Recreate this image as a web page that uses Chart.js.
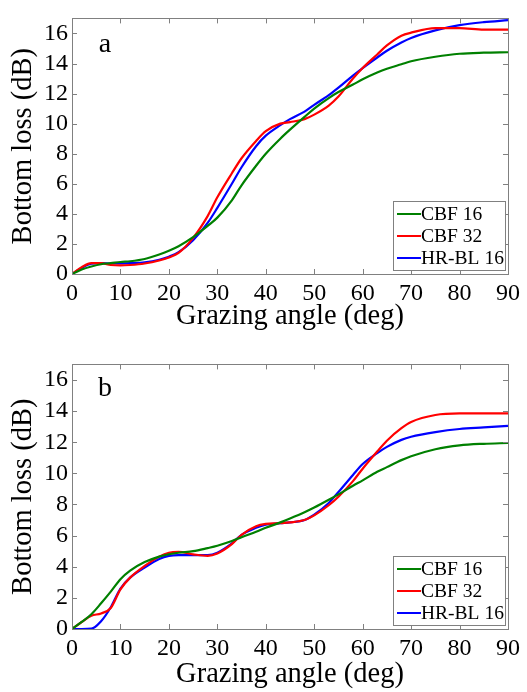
<!DOCTYPE html>
<html>
<head>
<meta charset="utf-8">
<script src="https://cdn.jsdelivr.net/npm/chart.js@4.4.1/dist/chart.umd.min.js"></script>
<style>
  html, body { margin: 0; padding: 0; background: #fff; }
  .panel { position: relative; width: 527px; height: 346px; }
</style>
</head>
<body>
<div class="panel"><canvas id="chartA"></canvas></div>
<div class="panel"><canvas id="chartB"></canvas></div>
<script>
const angles = [0, 2, 4, 6, 8, 10, 12, 15, 18, 20, 22, 25, 28, 30, 33, 35, 38, 40, 43, 45,
                48, 50, 53, 55, 58, 60, 63, 65, 68, 70, 75, 80, 85, 90];

const xTicks = [0, 10, 20, 30, 40, 50, 60, 70, 80, 90];
const yTicks = [0, 2, 4, 6, 8, 10, 12, 14, 16];
const seriesNames = ["CBF 16", "CBF 32", "HR-BL 16"];

// panel a
const cbf16A = [0, 0.3, 0.5, 0.65, 0.72, 0.8, 0.85, 1.0, 1.3, 1.55, 1.85, 2.45, 3.2, 3.75, 4.9, 5.9,
                7.2, 8.0, 9.0, 9.6, 10.45, 11.0, 11.7, 12.1, 12.6, 12.95, 13.4, 13.65, 13.95, 14.15,
                14.45, 14.65, 14.72, 14.75];
const cbf32A = [0, 0.45, 0.72, 0.72, 0.6, 0.57, 0.6, 0.7, 0.9, 1.1, 1.4, 2.4, 3.85, 5.1, 6.7, 7.7,
                8.85, 9.5, 10.0, 10.1, 10.3, 10.6, 11.2, 11.8, 13.0, 13.7, 14.6, 15.2, 15.85, 16.05,
                16.35, 16.35, 16.25, 16.25];
const hrbl16A = [0, 0.4, 0.68, 0.72, 0.7, 0.7, 0.72, 0.78, 0.95, 1.15, 1.45, 2.25, 3.4, 4.4, 6.0, 7.1,
                 8.5, 9.2, 9.9, 10.3, 10.8, 11.25, 11.9, 12.4, 13.2, 13.7, 14.4, 14.85, 15.4, 15.7,
                 16.2, 16.55, 16.75, 16.88];

// panel b
const cbf16B = [0, 0.45, 0.95, 1.65, 2.4, 3.2, 3.75, 4.3, 4.65, 4.8, 4.9, 5.0, 5.2, 5.35, 5.65, 5.9,
                6.25, 6.5, 6.85, 7.1, 7.5, 7.8, 8.3, 8.65, 9.2, 9.55, 10.1, 10.4, 10.85, 11.1,
                11.55, 11.8, 11.9, 11.95];
const cbf32B = [0, 0.45, 0.85, 1.0, 1.35, 2.55, 3.3, 4.05, 4.65, 4.9, 4.95, 4.8, 4.7, 4.85, 5.45, 6.05,
                6.6, 6.75, 6.8, 6.85, 7.0, 7.3, 7.95, 8.5, 9.5, 10.3, 11.4, 12.1, 12.9, 13.3,
                13.75, 13.85, 13.85, 13.85];
const hrbl16B = [0, 0, 0.02, 0.5, 1.4, 2.6, 3.3, 3.95, 4.5, 4.7, 4.75, 4.75, 4.75, 4.9, 5.5, 6.05,
                 6.5, 6.7, 6.8, 6.85, 7.0, 7.35, 8.1, 8.8, 9.9, 10.6, 11.3, 11.7, 12.15, 12.35,
                 12.65, 12.85, 12.95, 13.05];

const colors = ["#008000", "#ff0000", "#0000ff"];
const serif = "'Liberation Serif', 'Times New Roman', serif";

function points(vals) {
    return angles.map((a, i) => ({ x: a, y: vals[i] }));
}

// MATLAB-like box with inward ticks on all four sides
const boxPlugin = {
    id: "box",
    afterDatasetsDraw(chart) {
        const { ctx, chartArea: a, scales } = chart;
        ctx.save();
        ctx.strokeStyle = "#808080";
        ctx.lineWidth = 1;
        ctx.beginPath();
        xTicks.forEach(v => {
            const x = Math.round(scales.x.getPixelForValue(v)) + 0.5;
            ctx.moveTo(x, a.bottom); ctx.lineTo(x, a.bottom - 5);
            ctx.moveTo(x, a.top); ctx.lineTo(x, a.top + 5);
        });
        yTicks.forEach(v => {
            const y = Math.round(scales.y.getPixelForValue(v)) + 0.5;
            ctx.moveTo(a.left, y); ctx.lineTo(a.left + 5, y);
            ctx.moveTo(a.right, y); ctx.lineTo(a.right - 5, y);
        });
        ctx.stroke();
        ctx.strokeRect(Math.round(a.left) + 0.5, Math.round(a.top) + 0.5,
                       Math.round(a.width), Math.round(a.height));
        ctx.restore();
    }
};

// legend box in lower right corner + panel letter
const annotPlugin = {
    id: "annot",
    afterDraw(chart, args, opts) {
        const { ctx, chartArea: a } = chart;
        ctx.save();
        // panel letter
        ctx.fillStyle = "#000";
        ctx.font = "28px " + serif;
        ctx.textAlign = "center";
        ctx.textBaseline = "middle";
        ctx.fillText(opts.letter, a.left + 33, a.top + opts.letterDy);

        // legend
        const w = 112, h = 69;
        const bx = a.right - w - 3, by = a.bottom - h - 4;
        ctx.fillStyle = "#fff";
        ctx.fillRect(bx, by, w, h);
        ctx.strokeStyle = "#808080";
        ctx.lineWidth = 1;
        ctx.strokeRect(Math.round(bx) + 0.5, Math.round(by) + 0.5, w, h);
        ctx.font = "19.5px " + serif;
        ctx.textAlign = "left";
        chart.data.datasets.forEach((ds, i) => {
            const y = by + 13 + i * 22;
            ctx.strokeStyle = ds.borderColor;
            ctx.lineWidth = 2;
            ctx.beginPath();
            ctx.moveTo(bx + 4, y);
            ctx.lineTo(bx + 28, y);
            ctx.stroke();
            ctx.fillStyle = "#000";
            ctx.fillText(ds.label, bx + 28, y + 1);
        });
        ctx.restore();
    }
};

function makeChart(id, series, letter, topPad, xHeight, letterDy, titlePad) {
    return new Chart(document.getElementById(id), {
        type: "line",
        data: {
            datasets: series.map((vals, i) => ({
                label: seriesNames[i],
                data: points(vals),
                borderColor: colors[i],
                borderWidth: 2.2,
                pointRadius: 0,
                fill: false,
                cubicInterpolationMode: "monotone"
            }))
        },
        options: {
            responsive: false,
            animation: false,
            layout: { padding: { left: 0, right: 19, top: topPad, bottom: 0 } },
            plugins: {
                legend: { display: false },
                tooltip: { enabled: false },
                annot: { letter: letter, letterDy: letterDy }
            },
            scales: {
                x: {
                    type: "linear",
                    min: 0, max: 90,
                    afterBuildTicks: s => { s.ticks = xTicks.map(v => ({ value: v })); },
                    afterFit: s => { s.height = xHeight; },
                    grid: { display: false, drawTicks: false },
                    border: { display: false },
                    ticks: { color: "#000", font: { family: serif, size: 24 }, padding: 5,
                             maxRotation: 0, autoSkip: false },
                    title: {
                        display: true, text: "Grazing angle (deg)", color: "#000",
                        font: { family: serif, size: 28.5 }, padding: { top: 0, bottom: titlePad }
                    }
                },
                y: {
                    min: 0, max: 17,
                    afterBuildTicks: s => { s.ticks = yTicks.map(v => ({ value: v })); },
                    afterFit: s => { s.width = 72; },
                    grid: { display: false, drawTicks: false },
                    border: { display: false },
                    ticks: { color: "#000", font: { family: serif, size: 24 }, padding: 4, autoSkip: false },
                    title: {
                        display: true, text: "Bottom loss (dB)", color: "#000",
                        font: { family: serif, size: 28.5 }, padding: { top: 6, bottom: 0 }
                    }
                }
            }
        },
        plugins: [boxPlugin, annotPlugin]
    });
}

const cA = document.getElementById("chartA");
const cB = document.getElementById("chartB");
[cA, cB].forEach(c => { c.width = 527; c.height = 346; });

makeChart("chartA", [cbf16A, cbf32A, hrbl16A], "a", 7, 72, 26, 12);
makeChart("chartB", [cbf16B, cbf32B, hrbl16B], "b", 16, 63, 24, 0);
</script>
</body>
</html>
